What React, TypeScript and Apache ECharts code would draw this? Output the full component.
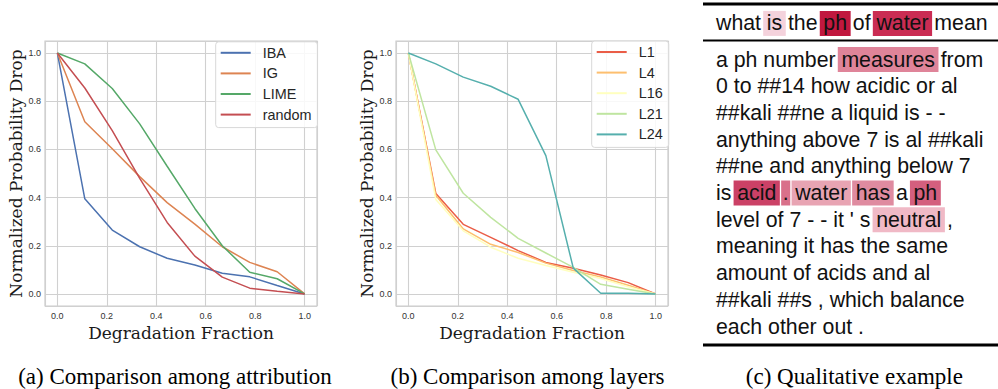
import React, { useEffect, useRef } from "react";
import * as echarts from "echarts";

// ---------- data ----------
const fractions = [0, 0.111, 0.222, 0.333, 0.444, 0.556, 0.667, 0.778, 0.889, 1.0];
const tickValues = [0, 0.2, 0.4, 0.6, 0.8, 1.0];

const methodNames = ["IBA", "IG", "LIME", "random"];
const ibaValues = [1.0, 0.395, 0.265, 0.196, 0.148, 0.12, 0.086, 0.071, 0.035, 0.0];
const igValues = [1.0, 0.715, 0.603, 0.487, 0.379, 0.29, 0.196, 0.131, 0.092, 0.0];
const limeValues = [1.0, 0.955, 0.853, 0.706, 0.53, 0.355, 0.2, 0.09, 0.063, 0.0];
const randomValues = [1.0, 0.855, 0.678, 0.48, 0.297, 0.157, 0.07, 0.024, 0.011, 0.0];
const methodColors = ["#4c72b0", "#dd8452", "#55a868", "#c44e52"];

const layerNames = ["L1", "L4", "L16", "L21", "L24"];
const l1Values = [1.0, 0.417, 0.289, 0.235, 0.18, 0.131, 0.107, 0.079, 0.047, 0.0];
const l4Values = [1.0, 0.41, 0.27, 0.206, 0.172, 0.128, 0.097, 0.07, 0.036, 0.0];
const l16Values = [1.0, 0.392, 0.262, 0.194, 0.148, 0.118, 0.09, 0.064, 0.03, 0.0];
const l21Values = [1.0, 0.598, 0.418, 0.318, 0.231, 0.17, 0.11, 0.04, 0.02, 0.0];
const l24Values = [1.0, 0.955, 0.9, 0.862, 0.808, 0.574, 0.107, 0.003, 0.003, 0.0];
const layerColors = ["#ea5d47", "#fdbf6f", "#ffffbf", "#bfe5a0", "#55afad"];

const questionTokens = ["what", "is", "the", "ph", "of", "water", "mean"];
const questionHighlights: [number, string][] = [
  [1, "#f4d2dc"],
  [3, "#c1183f"],
  [5, "#ca2c53"],
];
const answerLines = [
  ["a", "ph", "number", "measures", "from"],
  ["0", "to", "##14", "how", "acidic", "or", "al"],
  ["##kali", "##ne", "a", "liquid", "is", "-", "-"],
  ["anything", "above", "7", "is", "al", "##kali"],
  ["##ne", "and", "anything", "below", "7"],
  ["is", "acid", ".", "water", "has", "a", "ph"],
  ["level", "of", "7", "-", "-", "it", "'", "s", "neutral", ","],
  ["meaning", "it", "has", "the", "same"],
  ["amount", "of", "acids", "and", "al"],
  ["##kali", "##s", ",", "which", "balance"],
  ["each", "other", "out", "."],
];
const answerHighlights: [number, number, string][] = [
  [0, 3, "#df8499"],
  [5, 1, "#cb4166"],
  [5, 2, "#d9708a"],
  [5, 3, "#e8a4b3"],
  [5, 4, "#df8ba0"],
  [5, 6, "#d45f7e"],
  [6, 8, "#f0b9c6"],
];
const captions = ["(a) Comparison among attribution", "(b) Comparison among layers", "(c) Qualitative example"];

// ---------- helpers ----------
const richStyles: Record<string, any> = {
  gA: { width: 2.2 },
  gB: { width: 1.3 },
};
let styleCount = 0;
function styleFor(color: string, token: string) {
  const name = "h" + styleCount++;
  const narrow = token.length === 1 && /[.,'\-]/.test(token);
  richStyles[name] = {
    backgroundColor: color,
    lineHeight: 21,
    padding: narrow ? [2, 1.6, 2, 1.6] : [2, 3.6, 2, 3.6],
    fill: "#111",
  };
  return name;
}
function buildLine(tokens: string[], colors: (string | null)[]) {
  let s = "";
  tokens.forEach((t, i) => {
    if (i > 0) {
      const prev = colors[i - 1];
      const cur = colors[i];
      if (prev && cur) s += "{gB| }";
      else if (prev || cur) s += "{gA| }";
      else s += " ";
    }
    if (colors[i]) s += "{" + styleFor(colors[i] as string, t) + "|" + t + "}";
    else s += t;
  });
  return s;
}

const questionColors = questionTokens.map((_, i) => {
  const h = questionHighlights.find((q) => q[0] === i);
  return h ? h[1] : null;
});
const questionText = buildLine(questionTokens, questionColors);
const answerTexts = answerLines.map((tokens, li) =>
  buildLine(
    tokens,
    tokens.map((_, ti) => {
      const h = answerHighlights.find((a) => a[0] === li && a[1] === ti);
      return h ? h[2] : null;
    })
  )
);

const isTick = (v: number) => tickValues.some((t) => Math.abs(t - v) < 1e-6);

function axisPair(gridIndex: number) {
  const labelStyle = {
    fontFamily: "Liberation Sans",
    fontSize: 9,
    color: "#333",
  };
  const nameStyle = { fontFamily: "DejaVu Serif", fontSize: 17, color: "#1a1a1a" };
  const x = {
    type: "value",
    gridIndex,
    min: -0.05,
    max: 1.05,
    splitNumber: 5,
    axisLine: { show: false },
    axisTick: { show: false },
    axisLabel: {
      ...labelStyle,
      margin: 5,
      showMinLabel: true,
      showMaxLabel: true,
      formatter: (v: number) => (isTick(v) ? v.toFixed(1) : ""),
    },
    splitLine: { show: true, lineStyle: { color: "#d0d0d0", width: 1.1 } },
    name: "Degradation Fraction",
    nameLocation: "middle",
    nameGap: 13,
    nameTextStyle: nameStyle,
  };
  const y = {
    type: "value",
    gridIndex,
    min: -0.05,
    max: 1.05,
    splitNumber: 5,
    axisLine: { show: false },
    axisTick: { show: false },
    axisLabel: {
      ...labelStyle,
      margin: 4,
      formatter: (v: number) => (isTick(v) ? v.toFixed(1) : ""),
    },
    splitLine: { show: true, lineStyle: { color: "#d0d0d0", width: 1.1 } },
    name: "Normalized Probability Drop",
    nameLocation: "middle",
    nameGap: 20,
    nameRotate: 90,
    nameTextStyle: nameStyle,
  };
  return { x, y };
}

function lineSeries(name: string, values: number[], color: string, idx: number) {
  return {
    name,
    type: "line",
    xAxisIndex: idx,
    yAxisIndex: idx,
    data: fractions.map((f, i) => [f, values[i]]),
    symbol: "none",
    lineStyle: { color, width: 1.5 },
    itemStyle: { color },
    silent: true,
  };
}

function legendFor(names: string[], left: number, top: number) {
  return {
    data: names,
    left,
    top,
    orient: "vertical",
    icon: "rect",
    itemWidth: 30,
    itemHeight: 2,
    itemGap: 6.6,
    backgroundColor: "rgba(255,255,255,0.85)",
    borderColor: "#d8d8d8",
    borderWidth: 1,
    borderRadius: 3,
    padding: [4, 6, 6, 5],
    selectedMode: false,
    textStyle: {
      fontFamily: "Liberation Sans",
      fontSize: 14.4,
      lineHeight: 14,
      color: "#262626",
      padding: [0, 0, 0, 7],
    },
  };
}

export default function App() {
  const ref = useRef<HTMLDivElement>(null);
  useEffect(() => {
    if (!ref.current) return;
    const chart = echarts.init(ref.current, undefined, { renderer: "svg" });
    const a = axisPair(0);
    const b = axisPair(1);

    const graphics: any[] = [];
    // rules
    graphics.push({ type: "rect", shape: { x: 703, y: 2.6, width: 295, height: 3 }, style: { fill: "#000" } });
    graphics.push({ type: "rect", shape: { x: 703, y: 39.6, width: 295, height: 2 }, style: { fill: "#000" } });
    graphics.push({ type: "rect", shape: { x: 703, y: 343.6, width: 295, height: 3 }, style: { fill: "#000" } });
    // question line
    graphics.push({
      type: "text",
      x: 716,
      y: 23.4,
      style: {
        text: questionText,
        fontFamily: "Liberation Sans",
        fontSize: 21.3,
        lineHeight: 25,
        fill: "#111",
        verticalAlign: "middle",
        align: "left",
        rich: richStyles,
      },
    });
    answerTexts.forEach((t, i) => {
      graphics.push({
        type: "text",
        x: 716,
        y: 59.5 + i * 26.7,
        style: {
          text: t,
          fontFamily: "Liberation Sans",
          fontSize: 21.3,
          lineHeight: 25,
          fill: "#111",
          verticalAlign: "middle",
          align: "left",
          rich: richStyles,
        },
      });
    });
    const capX = [175, 527.5, 854.4];
    captions.forEach((c, i) => {
      graphics.push({
        type: "text",
        x: capX[i],
        y: 376.5,
        style: {
          text: c,
          fontFamily: "Liberation Serif",
          fontSize: 23,
          lineHeight: 23,
          fill: "#000",
          align: "center",
          verticalAlign: "middle",
        },
      });
    });

    const methodValues = [ibaValues, igValues, limeValues, randomValues];
    const layerValues = [l1Values, l4Values, l16Values, l21Values, l24Values];

    chart.setOption({
      animation: false,
      backgroundColor: "#fff",
      grid: [
        { left: 45, top: 41, width: 272, height: 265, show: true, borderColor: "#cccccc", borderWidth: 1.2, backgroundColor: "#fff" },
        { left: 396, top: 41, width: 272, height: 265, show: true, borderColor: "#cccccc", borderWidth: 1.2, backgroundColor: "#fff" },
      ],
      xAxis: [a.x, b.x],
      yAxis: [a.y, b.y],
      legend: [legendFor(methodNames, 215.7, 41.8), legendFor(layerNames, 591.7, 41)],
      series: [
        ...methodNames.map((n, i) => lineSeries(n, methodValues[i], methodColors[i], 0)),
        ...layerNames.map((n, i) => lineSeries(n, layerValues[i], layerColors[i], 1)),
      ],
      graphic: graphics,
    });
    return () => chart.dispose();
  }, []);
  return <div ref={ref} style={{ position: "absolute", left: 0, top: 0, width: 998, height: 389 }} />;
}
